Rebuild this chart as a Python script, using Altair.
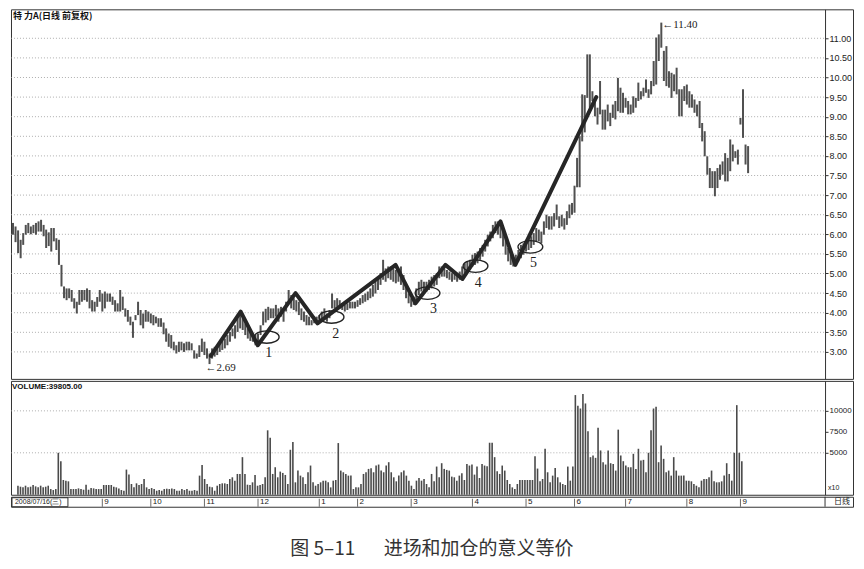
import altair as alt
import pandas as pd

# ---------------- price bars: daily high / low ----------------
high_a = [6.29,6.20,6.10,5.86,6.03,6.24,6.29,6.20,6.24,6.29,
          6.33,6.37,6.24,6.12,6.05,6.16,6.16,5.90,5.86,5.22,
          4.67,4.62,4.62,4.58,4.37,4.28,4.58,4.58,4.58,4.62,
          4.58,4.32,4.28,4.40,4.58,4.49,4.54,4.49,4.49,4.41,
          4.32,4.24,4.58,4.41,4.11,4.07,3.90,3.77,3.94,4.28,
          4.07,3.98,4.07,4.03,3.98,3.94,3.90,3.86,3.86,3.75,
          3.60,3.47,3.43,3.26,3.17,3.26,3.26,3.22,3.26,3.26,
          3.22,3.04,2.96,3.17,3.34,3.26,3.09,2.96]
low_a = [5.99,5.80,5.52,5.39,5.73,5.99,6.03,6.00,6.03,5.99,
         6.07,6.07,5.95,5.65,5.70,5.56,5.82,5.60,5.22,4.67,
         4.37,4.32,4.37,4.28,4.11,3.98,4.20,4.28,4.32,4.28,
         4.11,4.03,4.03,4.15,4.28,4.03,4.11,4.28,4.28,4.20,
         4.03,4.03,4.03,4.07,3.90,3.77,3.68,3.36,3.81,3.94,
         3.68,3.60,3.77,3.77,3.73,3.68,3.73,3.64,3.64,3.45,
         3.26,3.13,3.09,3.04,2.96,3.00,3.04,3.00,3.04,3.04,
         3.04,2.83,2.83,2.87,3.00,2.92,2.83,2.69]
high_b = [3.09,3.13,3.17,3.26,3.30,3.34,3.43,3.51,3.60,3.68,
          3.86,3.94,3.90,3.73,3.60,3.52,3.47,3.43,3.47,3.68,
          4.03,4.10,4.15,4.11,4.11,4.20,4.11,4.15,4.03,4.28,
          4.58,4.45,4.37,4.32,4.28,4.11,4.03,3.94,3.90,3.81,
          3.90,3.90,3.94,4.03,4.11,3.98,4.07,4.49,4.32,4.37,
          4.32,4.24,4.20,4.24,4.28,4.28,4.28,4.32,4.37,4.45,
          4.49,4.54,4.62,4.71,4.79,4.88,5.01,5.35,5.13,5.18,
          5.18,5.13,5.09,5.13,5.18,4.96,4.71,4.49,4.37,4.41,
          4.62,4.79,4.84,4.79,4.79,4.84,4.92,4.96,5.01,5.18,
          5.18,5.13,5.09,5.05,5.01,5.01,4.96,5.05,5.18,5.26,
          5.31,5.35,5.48,5.52,5.56,5.65,5.73,5.86,5.99,6.07,
          6.24,6.33,6.33,6.24,6.12,5.90,5.65,5.48,5.39,5.48,
          5.60,5.73,5.77,5.86,5.90,5.95,6.03,6.16,6.12,6.07,
          6.33,6.50,6.46,6.46,6.54,6.76,6.46,6.50,6.41,6.59,
          6.76,6.80]
low_b = [2.83,2.88,2.92,3.00,3.05,3.09,3.17,3.26,3.40,3.34,
         3.51,3.60,3.56,3.43,3.34,3.28,3.26,3.17,3.26,3.43,
         3.68,3.75,3.81,3.86,3.86,3.90,3.77,3.90,3.77,4.03,
         4.28,4.11,4.07,4.03,3.94,3.81,3.77,3.68,3.68,3.68,
         3.73,3.73,3.77,3.77,3.86,3.77,3.86,4.11,4.11,4.15,
         4.11,4.07,4.03,4.07,4.11,4.11,4.11,4.15,4.20,4.24,
         4.28,4.32,4.37,4.41,4.49,4.58,4.71,4.84,4.79,4.88,
         4.84,4.79,4.75,4.79,4.71,4.58,4.37,4.24,4.15,4.20,
         4.28,4.45,4.54,4.49,4.54,4.58,4.62,4.67,4.71,4.88,
         4.92,4.92,4.88,4.84,4.79,4.84,4.79,4.84,4.92,5.01,
         5.09,5.09,5.18,5.22,5.26,5.35,5.43,5.56,5.69,5.82,
         5.90,6.03,5.99,5.90,5.69,5.48,5.31,5.22,5.18,5.22,
         5.31,5.39,5.48,5.56,5.60,5.65,5.73,5.82,5.82,5.77,
         5.99,6.16,6.12,6.12,6.20,6.37,6.16,6.20,6.12,6.24,
         6.41,6.50]
high_c = [7.24,7.95,8.50,9.57,9.55,10.59,10.59,9.65,9.40,9.23,
          9.91,9.18,9.18,9.31,9.10,9.31,9.40,9.99,9.74,9.61,
          9.48,9.40,9.31,9.52,9.48,9.87,9.65,9.74,9.95,9.70,
          9.91,10.42,11.02,11.10,11.40,10.68,10.80,10.16,10.12,10.08,
          10.25,9.70,9.70,9.78,9.82,9.65,9.57,9.44,9.31,9.40,
          8.84,8.63,7.99,7.69,7.61,7.61,7.69,7.78,7.86,8.07,
          7.95,8.42,8.29,8.12,8.16,8.97,9.70,8.29,8.25]
low_c = [6.55,7.20,7.20,8.37,8.60,9.48,9.23,9.40,9.01,8.80,
         9.06,8.67,8.67,8.88,8.76,8.97,8.93,9.14,9.10,9.10,
         9.23,9.06,9.06,9.10,9.23,9.40,9.44,9.52,9.61,9.48,
         9.57,9.78,9.82,10.42,10.76,9.91,9.78,9.74,9.48,9.65,
         9.57,9.01,9.01,9.40,9.31,9.23,9.23,9.10,9.01,8.71,
         8.37,7.99,7.52,7.18,7.18,6.97,7.18,7.39,7.52,7.35,
         7.35,7.61,7.86,7.95,7.78,8.80,8.46,7.78,7.56]

# ---------------- daily volume (hands) ----------------
vol_a = [1080,960,880,1080,880,960,1160,1000,880,1080,
         880,960,1080,680,560,680,5000,4000,1760,1680,
         1600,680,680,680,760,680,600,1200,600,800,
         760,680,680,680,1160,1160,1160,1160,960,880,
         760,560,480,3000,2400,1280,880,1360,1160,1280,
         1880,880,680,800,680,480,560,480,680,720,
         680,760,680,480,480,680,560,680,480,480,
         560,480,2280,3560,1880,1280,960,880,480,1080,
         1280,1360,1360,1280,1880,2080,1680,2480,2480,4480,
         2480,1200,1160,1480,2360,1080,1160,1280,2080,7680,
         6800,2480,3280,2080,2760,2600,2360,1280,5360,6280,
         1480,2880,2280,2080,1280,2680,3480,1480,1080,1280,
         1480,1680,1680,1480,880,1680,1760,6160,2880,2680,
         2480,2280,2280,680,880,880,1280,2480,2680,3080,
         3160,2680,3480,3600,2880,2680,3480,3880,2680,2080,
         1600,2280,2680,2880,2280,1680,1080,680,1680,2000,
         1680,1880,1280]
vol_b = [880,2480,1600,3360,2080,3760,3080,2960,2880,2160,
         2080,1680,2280,2560,1760,3680,3480,3600,2400,3360,
         2000,3680,3480,3400,6200,6200,4480,2800,2480,3480,
         2880,1760,1280,880,680,1280,1760,1760,1760,1760,
         1760,1760,4600,3120,1600,1880,5480,2680,1480,2280,
         3200,2080,1480,1280,1160,3360,1680,3360,11880,10600,
         10280,12000,10880,7560,4480,4680,4400,8000,5280,3880,
         3600,5280,3760,3680,2880,7760,4680,4000,3480,3280,
         3280,4880,3080,5480,4080,4160,2680,5000,7680,10280,
         10480,3880,5880,4280,2680,2880,2280,4480,2880,2280,
         2280,2280,1680,1680,1600,1280,1080,880,1680,1880,
         1880,2080,2880,1600,1480,1480,1600,2280,3760,2480,
         1680,5000,10680,5000,4000]

# ---------------- axes / labels ----------------
price_ticks = [3.0, 3.5, 4.0, 4.5, 5.0, 5.5, 6.0, 6.5, 7.0, 7.5,
               8.0, 8.5, 9.0, 9.5, 10.0, 10.5, 11.0]
vol_ticks = [5000, 7500, 10000]
vol_grid = [5000, 10000]
first_day = [0]
first_text = ["2008/07/16(三)"]
month_day = [35, 54, 75, 96, 120, 135, 156, 180, 201, 220, 240, 264, 285]
month_text = ["9", "10", "11", "12", "1", "2", "3", "4", "5", "6", "7", "8", "9"]
caption = "图 5–11\u2003\u2002进场和加仓的意义等价"

# ---------------- annotations ----------------
zig_day = [77.5, 89.2, 95.9, 110.7, 119.3, 149.9, 157.7, 169.4, 176.1, 191.0, 196.8, 228.5]
zig_price = [2.90, 4.03, 3.17, 4.50, 3.73, 5.22, 4.24, 5.22, 4.86, 6.33, 5.22, 9.50]
ring_day = [99.4, 124.8, 162.4, 181.2, 202.7]
ring_price = [3.38, 3.89, 4.50, 5.19, 5.68]
num_day = [100.2, 126.4, 164.7, 182.3, 203.9]
num_price = [2.97, 3.46, 4.10, 4.76, 5.27]
num_text = ["1", "2", "3", "4", "5"]
low_day, low_price, low_text = 77, 2.69, "←2.69"
top_day, top_price, top_text = 254, 11.40, "←11.40"

high = high_a + high_b + high_c
low = low_a + low_b + low_c
vol = vol_a + vol_b

W = 843
xs = alt.Scale(domain=[-0.78, 329.1], nice=False, zero=False)
ps = alt.Scale(domain=[2.312, 11.739], nice=False, zero=False)
vs = alt.Scale(domain=[0, 13571], nice=False, zero=False)

price_axis = alt.Axis(orient="right", offset=-28, values=price_ticks, format=".2f",
                      title=None, grid=False, tickSize=3, labelPadding=1,
                      labelFontSize=9)
vol_axis = alt.Axis(orient="right", offset=-28, values=vol_ticks, format="d",
                    title=None, grid=False, tickSize=3, labelPadding=1,
                    labelFontSize=8)


def X(field):
    return alt.X(field, scale=xs, axis=None)


# ---------------- price panel ----------------
pdf = pd.DataFrame({"day": list(range(len(high))), "hi": high, "lo": low})
grid_p = alt.Chart(pd.DataFrame({"p": price_ticks})).mark_rule(
    color="#9a9a9a", strokeDash=[1, 2], strokeWidth=0.8
).encode(y=alt.Y("p:Q", scale=ps, axis=price_axis), x=alt.value(0), x2=alt.value(815))

bars_p = alt.Chart(pdf).mark_rule(color="#505050", strokeWidth=2).encode(
    x=X("day:Q"), y=alt.Y("lo:Q", scale=ps, axis=price_axis), y2="hi:Q")

zdf = pd.DataFrame({"day": zig_day, "p": zig_price, "k": list(range(len(zig_day)))})
zig = alt.Chart(zdf).mark_line(color="#262626", strokeWidth=4, strokeCap="round",
                                strokeJoin="round").encode(
    x=X("day:Q"), y=alt.Y("p:Q", scale=ps, axis=price_axis), order="k:Q")

ELLIPSE = "M-1,0A1,0.5,0,1,1,1,0A1,0.5,0,1,1,-1,0Z"
rdf = pd.DataFrame({"day": ring_day, "p": ring_price})
rings = alt.Chart(rdf).mark_point(shape=ELLIPSE, size=620, filled=False, color="#222",
                                  strokeWidth=1.3, opacity=1).encode(
    x=X("day:Q"), y=alt.Y("p:Q", scale=ps, axis=price_axis))

ndf = pd.DataFrame({"day": num_day, "p": num_price, "t": num_text})
nums = alt.Chart(ndf).mark_text(font="Liberation Serif", fontSize=14, color="#222").encode(
    x=X("day:Q"), y=alt.Y("p:Q", scale=ps, axis=price_axis), text="t:N")

lowlab = alt.Chart(pd.DataFrame({"day": [low_day], "p": [low_price], "t": [low_text]})).mark_text(
    align="left", baseline="middle", font="Liberation Serif", fontSize=11, color="#222",
    dx=-4, dy=4).encode(x=X("day:Q"), y=alt.Y("p:Q", scale=ps, axis=price_axis), text="t:N")
toplab = alt.Chart(pd.DataFrame({"day": [top_day], "p": [top_price], "t": [top_text]})).mark_text(
    align="left", baseline="middle", font="Liberation Serif", fontSize=11, color="#222",
    dx=1, dy=2).encode(x=X("day:Q"), y=alt.Y("p:Q", scale=ps, axis=price_axis), text="t:N")

ttl = alt.Chart(pd.DataFrame({"t": ["特 力A(日线 前复权)"]})).mark_text(
    align="left", baseline="middle", font="Noto Sans CJK SC", fontSize=9, fontWeight="bold",
    color="#111").encode(text="t:N", x=alt.value(2), y=alt.value(7))

price = alt.layer(grid_p, bars_p, zig, rings, nums, lowlab, toplab, ttl).properties(
    width=W, height=370)

# ---------------- volume panel ----------------
vdf = pd.DataFrame({"day": list(range(len(vol))), "v": vol})
grid_v = alt.Chart(pd.DataFrame({"v": vol_grid})).mark_rule(
    color="#9a9a9a", strokeDash=[1, 2], strokeWidth=0.8
).encode(y=alt.Y("v:Q", scale=vs, axis=vol_axis), x=alt.value(0), x2=alt.value(815))
bars_v = alt.Chart(vdf).mark_bar(width=1.6, color="#4a4a4a").encode(
    x=X("day:Q"), y=alt.Y("v:Q", scale=vs, axis=vol_axis))
vlab = alt.Chart(pd.DataFrame({"t": ["VOLUME:39805.00"]})).mark_text(
    align="left", baseline="middle", font="Liberation Sans", fontSize=8, fontWeight="bold",
    color="#111").encode(text="t:N", x=alt.value(1), y=alt.value(6))
x10 = alt.Chart(pd.DataFrame({"t": ["x10"]})).mark_text(
    align="left", baseline="middle", font="Liberation Sans", fontSize=7,
    color="#222").encode(text="t:N", x=alt.value(818), y=alt.value(107))
volume = alt.layer(grid_v, bars_v, vlab, x10).properties(width=W, height=114)

# ---------------- date strip ----------------
mdf = pd.DataFrame({"day": month_day, "t": month_text})
fdf = pd.DataFrame({"day": first_day, "t": first_text})
mtick = alt.Chart(mdf).mark_rule(color="#444", strokeWidth=0.8).encode(
    x=X("day:Q"), y=alt.value(2), y2=alt.value(10))
mtext = alt.Chart(mdf).mark_text(align="left", baseline="middle", font="Liberation Sans",
                                 fontSize=8, dx=2, color="#222").encode(
    x=X("day:Q"), y=alt.value(5.5), text="t:N")
ftext = alt.Chart(fdf).mark_text(align="left", baseline="middle", font="Liberation Sans",
                                 fontSize=7, dx=2, color="#222").encode(
    x=X("day:Q"), y=alt.value(5.5), text="t:N")
box = alt.Chart(pd.DataFrame({"t": ["box"]})).mark_rect(
    fill="transparent", stroke="#333", strokeWidth=1).encode(
    x=alt.value(1), x2=alt.value(57), y=alt.value(1), y2=alt.value(10))
sep = alt.Chart(pd.DataFrame({"t": ["日线"]})).mark_rule(color="#333").encode(
    x=alt.value(815), y=alt.value(0), y2=alt.value(10))
rlab = alt.Chart(pd.DataFrame({"t": ["日线"]})).mark_text(
    align="left", baseline="middle", font="Noto Sans CJK SC", fontSize=8,
    color="#222").encode(text="t:N", x=alt.value(824), y=alt.value(5.5))
strip = alt.layer(mtick, mtext, ftext, box, sep, rlab).properties(width=W, height=10)

chart = alt.vconcat(price, volume, strip, spacing=0).properties(
    title=alt.TitleParams(caption, orient="bottom", anchor="middle",
                          fontSize=19, font="Noto Sans CJK SC", fontWeight="normal",
                          color="#333", offset=32),
    padding={"left": 2, "top": 0, "right": 2, "bottom": 2},
).configure_view(stroke="#333", strokeWidth=1).configure_axis(
    labelFont="Liberation Sans", labelColor="#222", tickColor="#333", domainColor="#333")

chart.save("out.html", embed_options={"renderer": "svg", "actions": False})
